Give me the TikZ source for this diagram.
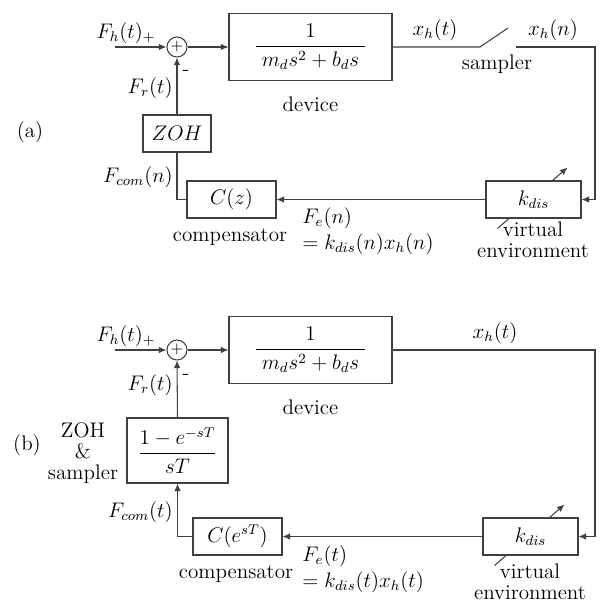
\documentclass[tikz,border=0pt]{standalone}
\usepackage{amsmath}
\usetikzlibrary{arrows.meta,positioning,calc}
\tikzset{
  block/.style={draw=black!75, line width=0.6pt, fill=white, align=center, inner sep=2pt},
  sumnode/.style={draw=black!75, circle, line width=0.6pt, minimum size=0.4cm, inner sep=0pt, font=\small},
  line/.style={draw=black!75, line width=0.6pt},
  arrow/.style={line, -{Latex[length=1.5mm,width=1.3mm]}},
  lbl/.style={inner sep=0pt},
  stacked/.style={inner sep=0pt, align=center, font=\fontsize{12}{12}\selectfont}
}

\begin{document}
\begin{tikzpicture}[x=0.02cm, y=-0.02cm, font=\fontsize{12}{15}\selectfont]
  \useasboundingbox (0,0) rectangle (605,605);
  % (a) discrete
  \node[lbl] at (30,132) {(a)};
  \coordinate (ina) at (115,47);
  \node[sumnode] (suma) at (177,47) {$+$};
  \node[block, minimum width=3.26cm, minimum height=1.34cm] (deva) at (310.5,47) {$\dfrac{1}{\;m_ds^2+b_ds\;}$};
  \node[lbl, below=0.3cm of deva] (devlbla) {device};
  \coordinate (swa1) at (480,47);
  \coordinate (swa2) at (508,28);
  \coordinate (swa3) at (516,47);
  \coordinate (cora) at (595,47);
  \coordinate (kca) at (533.5,199.5);
  \draw[arrow] ($(kca)+(-36,29)$) -- ($(kca)+(34,-32)$);
  \node[block, minimum width=1.9cm, minimum height=0.74cm] (kdisa) at (kca) {$k_{dis}$};
  \node[block, minimum width=1.78cm, minimum height=0.74cm] (ca) at (231.5,199.5) {$C(z)$};
  \node[block, minimum width=1.36cm, minimum height=0.74cm] (zoha) at (177,133.5) {$ZOH$};
  \draw[arrow] (ina) -- (suma);
  \draw[arrow] (suma) -- (deva);
  \draw[line] (deva.east) -- (swa1) -- (swa2);
  \draw[arrow] (swa3) -- (cora) |- (kdisa.east);
  \draw[arrow] (kdisa.west) -- (ca.east);
  \draw[line] (ca.west) -| (zoha.south);
  \draw[arrow] (zoha.north) -- (suma.south);
  \node[lbl] at (126,33) {$F_h(t)_{+}$};
  \node[lbl, anchor=east] at (173,88) {$F_r(t)$};
  \node[lbl] at (186,73) {-};
  \node[lbl, anchor=east] at (173,177) {$F_{com}(n)$};
  \node[lbl] at (435,30) {$x_h(t)$};
  \node[lbl] at (553,30) {$x_h(n)$};
  \node[lbl] at (497,64) {sampler};
  \node[lbl] at (230,237) {compensator};
  \node[lbl, anchor=north west, align=left] at (302,207) {$F_e(n)$\\$=k_{dis}(n)x_h(n)$};
  \node[stacked] at (533,240) {virtual\\environment};
  % (b) continuous
  \node[lbl] at (27,445) {(b)};
  \coordinate (inb) at (115,350);
  \node[sumnode] (sumb) at (177,350) {$+$};
  \node[block, minimum width=3.26cm, minimum height=1.34cm] (devb) at (310.5,350) {$\dfrac{1}{\;m_ds^2+b_ds\;}$};
  \node[lbl, below=0.3cm of devb] (devlblb) {device};
  \coordinate (corb) at (595,350);
  \coordinate (kcb) at (530.5,536.5);
  \draw[arrow] ($(kcb)+(-36,29)$) -- ($(kcb)+(34,-32)$);
  \node[block, minimum width=1.9cm, minimum height=0.74cm] (kdisb) at (kcb) {$k_{dis}$};
  \node[block, minimum width=1.78cm, minimum height=0.74cm] (cb) at (237.5,536.5) {$C(e^{sT})$};
  \node[block, minimum width=2.02cm, minimum height=1.3cm] (zohb) at (177.5,450.5) {$\dfrac{1-e^{-sT}}{sT}$};
  \draw[arrow] (inb) -- (sumb);
  \draw[arrow] (sumb) -- (devb);
  \draw[arrow] (devb.east) -- (corb) |- (kdisb.east);
  \draw[arrow] (kdisb.west) -- (cb.east);
  \draw[arrow] (cb.west) -| (zohb.south);
  \draw[arrow] (zohb.north) -- (sumb.south);
  \node[lbl] at (126,336) {$F_h(t)_{+}$};
  \node[lbl, anchor=east] at (173,385) {$F_r(t)$};
  \node[lbl] at (186,377) {-};
  \node[lbl, anchor=east] at (173,512) {$F_{com}(t)$};
  \node[lbl] at (495,333) {$x_h(t)$};
  \node[stacked] at (83,453) {ZOH\\\&\\sampler};
  \node[lbl] at (236,574) {compensator};
  \node[lbl, anchor=north west, align=left] at (302,545) {$F_e(t)$\\$=k_{dis}(t)x_h(t)$};
  \node[stacked] at (530,582) {virtual\\environment};
\end{tikzpicture}
\end{document}
